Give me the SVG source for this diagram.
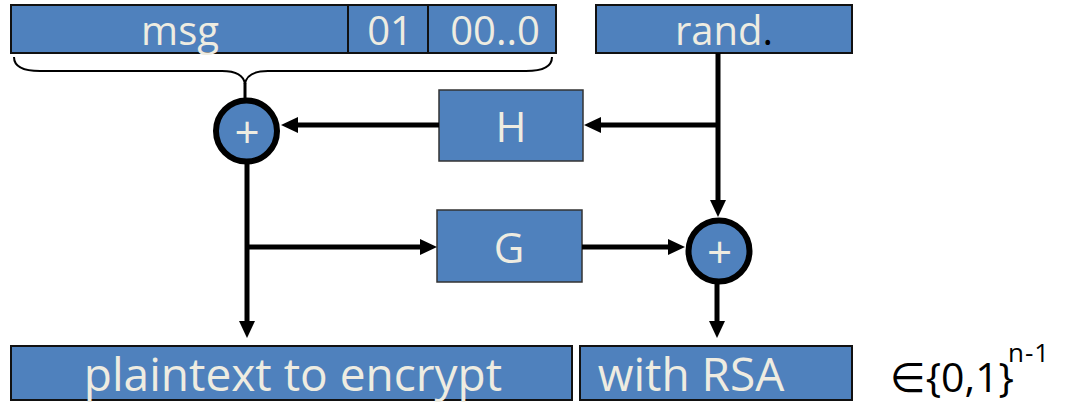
<svg xmlns="http://www.w3.org/2000/svg" width="1068" height="403" viewBox="0 0 1068 403">
<defs>
<style>
.bar{fill:#4F81BD;stroke:#111;stroke-width:2}
.box{fill:#4F81BD;stroke:#333;stroke-width:1.5}
.xor{fill:#4F81BD;stroke:#000;stroke-width:6}
.t{fill:#EEECE1;font-family:"Open Sans","Noto Sans",sans-serif;text-anchor:middle}
.ln{fill:none;stroke:#000;stroke-width:5}
.brace{fill:none;stroke:#000;stroke-width:2}
</style>
<marker id="ah" markerUnits="userSpaceOnUse" markerWidth="18" markerHeight="18" refX="0" refY="8" orient="auto" viewBox="0 0 18 16">
<path d="M0,0 L17,8 L0,16 z" fill="#000"/>
</marker>
</defs>
<g id="msg-block">
<rect class="bar" x="11" y="5" width="545" height="48"/>
<line x1="348" y1="5" x2="348" y2="53" stroke="#111" stroke-width="2"/>
<line x1="428" y1="5" x2="428" y2="53" stroke="#111" stroke-width="2"/>
<text class="t" x="180" y="45" font-size="40">msg</text>
<text class="t" x="390" y="45" font-size="40">01</text>
<text class="t" x="495" y="45" font-size="40">00..0</text>
</g>
<g id="rand">
<rect class="bar" x="596" y="5" width="256" height="48"/>
<text class="t" x="675" y="45" font-size="40" style="text-anchor:start">rand<tspan fill="#000">.</tspan></text>
</g>
<g id="brace">
<path class="brace" d="M14,57 Q14,71 40,71 L222,71 Q243,71 245,84 Q247,71 268,71 L526,71 Q552,71 552,57"/>
</g>
<g id="H">
<rect class="box" x="439" y="90" width="144" height="71"/>
<text class="t" x="511" y="142" font-size="42">H</text>
</g>
<g id="G">
<rect class="box" x="437" y="210" width="145" height="72"/>
<text class="t" x="509" y="263" font-size="42">G</text>
</g>
<g id="xor1">
<circle class="xor" cx="246.5" cy="131" r="30.5"/>
<text class="t" x="247" y="148" font-size="44">+</text>
</g>
<g id="xor2">
<circle class="xor" cx="719" cy="251" r="30.5"/>
<text class="t" x="719.5" y="268" font-size="44">+</text>
</g>
<g id="plaintext">
<rect class="bar" x="11" y="346" width="561" height="54"/>
<text class="t" x="293" y="391" font-size="46">plaintext to encrypt</text>
</g>
<g id="rsa">
<rect class="bar" x="580" y="346" width="272" height="54"/>
<text class="t" x="691" y="391" font-size="46">with RSA</text>
</g>
<g id="set">
<text x="890" y="392" font-family="'Open Sans','DejaVu Sans',sans-serif" font-size="41" fill="#000">∈{0,1}<tspan font-size="26" x="1008" y="362" letter-spacing="1">n-1</tspan></text>
</g>
<g id="connectors">
<line x1="245" y1="83" x2="245" y2="100" stroke="#000" stroke-width="3"/>
<path class="ln" d="M718,53 V200" marker-end="url(#ah)"/>
<path class="ln" d="M718,125 H601" marker-end="url(#ah)"/>
<path class="ln" d="M439,125 H298" marker-end="url(#ah)"/>
<path class="ln" d="M247,163 V321" marker-end="url(#ah)"/>
<path class="ln" d="M247,247 H420" marker-end="url(#ah)"/>
<path class="ln" d="M582,247 H668" marker-end="url(#ah)"/>
<path class="ln" d="M717,284 V321" marker-end="url(#ah)"/>
</g>
</svg>
